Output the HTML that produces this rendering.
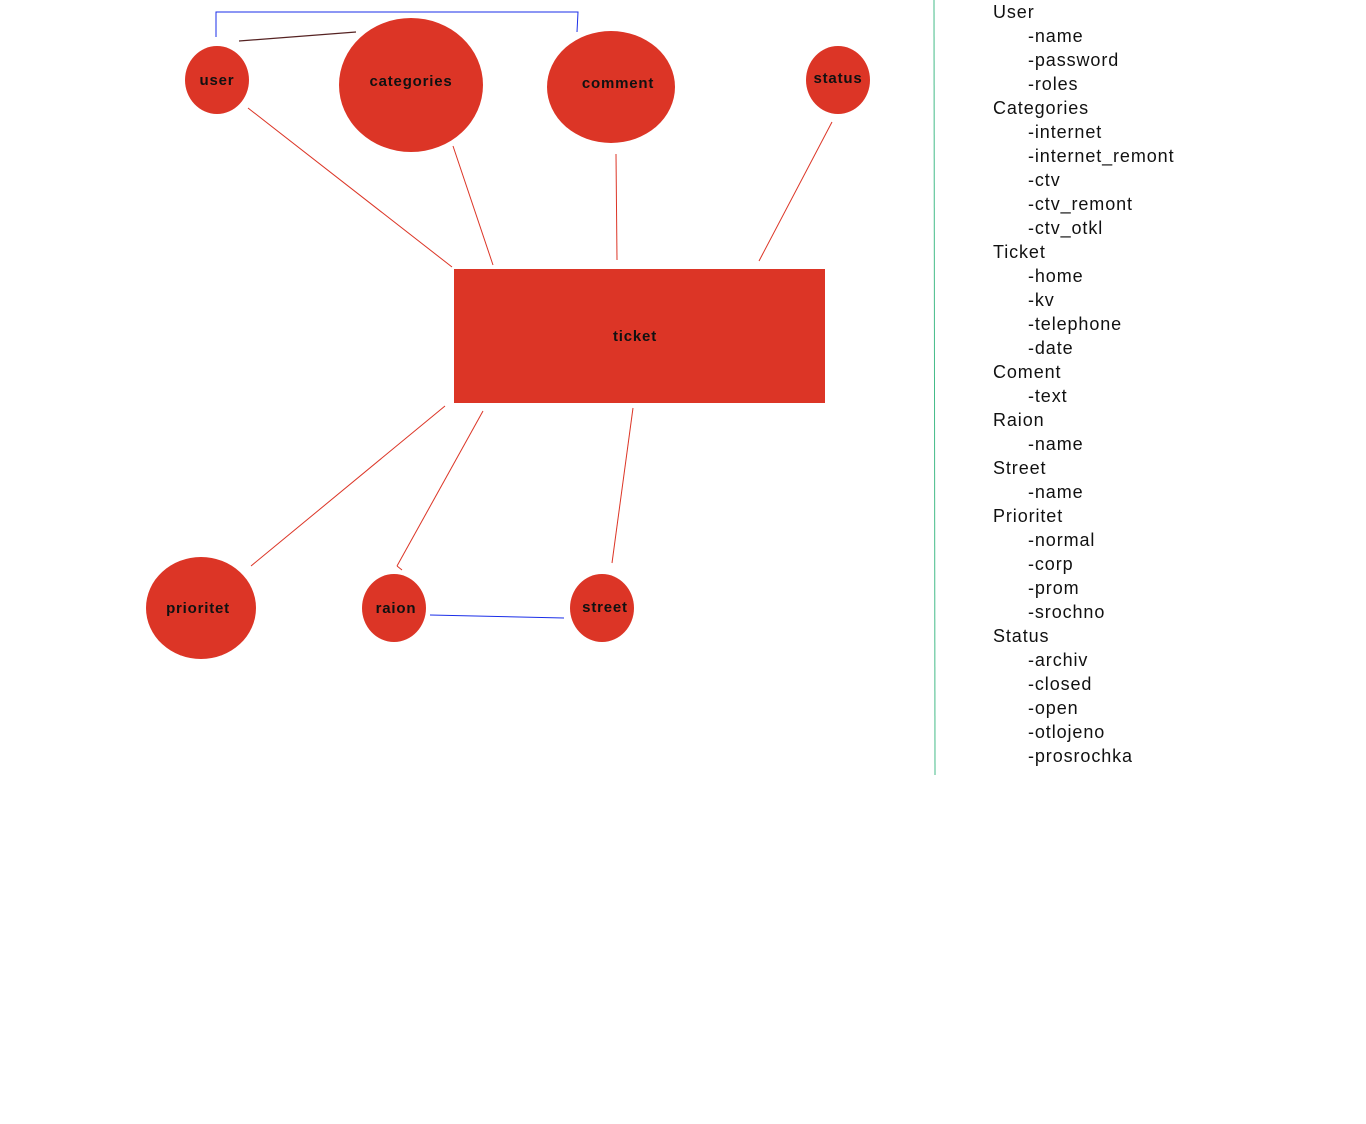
<!DOCTYPE html>
<html><head><meta charset="utf-8"><style>
html,body{margin:0;padding:0;background:#fff;width:1366px;height:1124px;overflow:hidden}
.list{position:absolute;left:993px;top:0;font-family:"Liberation Sans",sans-serif;font-size:18px;line-height:24px;color:#111;letter-spacing:0.9px}
.list div.i{padding-left:35px}
</style></head><body>
<svg width="1366" height="1124" style="position:absolute;left:0;top:0" font-family="Liberation Sans, sans-serif">
<g stroke="#1a2ee8" stroke-width="1" fill="none">
<polyline points="216,37 216,12 578,12 577,32"/>
<line x1="430" y1="615" x2="564" y2="618"/>
</g>
<line x1="239" y1="41" x2="356" y2="32" stroke="#552222" stroke-width="1.2"/>
<g stroke="#dc3526" stroke-width="1">
<line x1="248" y1="108" x2="452" y2="267"/>
<line x1="453" y1="146" x2="493" y2="265"/>
<line x1="616" y1="154" x2="617" y2="260"/>
<line x1="832" y1="122" x2="759" y2="261"/>
<line x1="445" y1="406" x2="251" y2="566"/>
<line x1="483" y1="411" x2="397" y2="566"/>
<line x1="397" y1="566" x2="402" y2="570"/>
<line x1="633" y1="408" x2="612" y2="563"/>
</g>
<line x1="934" y1="0" x2="935" y2="775" stroke="#44bb88" stroke-width="1"/>
<g fill="#dc3526">
<ellipse cx="217" cy="80" rx="32" ry="34"/>
<ellipse cx="411" cy="85" rx="72" ry="67"/>
<ellipse cx="611" cy="87" rx="64" ry="56"/>
<ellipse cx="838" cy="80" rx="32" ry="34"/>
<rect x="454" y="269" width="371" height="134"/>
<ellipse cx="201" cy="608" rx="55" ry="51"/>
<ellipse cx="394" cy="608" rx="32" ry="34"/>
<ellipse cx="602" cy="608" rx="32" ry="34"/>
</g>
<g font-size="15" fill="#111" text-anchor="middle" letter-spacing="0.8" font-weight="bold" style="font-weight:600">
<text x="217" y="85">user</text>
<text x="411" y="86">categories</text>
<text x="618" y="88">comment</text>
<text x="838" y="83">status</text>
<text x="635" y="341">ticket</text>
<text x="198" y="613">prioritet</text>
<text x="396" y="613">raion</text>
<text x="605" y="612">street</text>
</g>
</svg>
<div class="list">
<div>User</div><div class="i">-name</div><div class="i">-password</div><div class="i">-roles</div>
<div>Categories</div><div class="i">-internet</div><div class="i">-internet_remont</div><div class="i">-ctv</div><div class="i">-ctv_remont</div><div class="i">-ctv_otkl</div>
<div>Ticket</div><div class="i">-home</div><div class="i">-kv</div><div class="i">-telephone</div><div class="i">-date</div>
<div>Coment</div><div class="i">-text</div>
<div>Raion</div><div class="i">-name</div>
<div>Street</div><div class="i">-name</div>
<div>Prioritet</div><div class="i">-normal</div><div class="i">-corp</div><div class="i">-prom</div><div class="i">-srochno</div>
<div>Status</div><div class="i">-archiv</div><div class="i">-closed</div><div class="i">-open</div><div class="i">-otlojeno</div><div class="i">-prosrochka</div>
</div>
</body></html>
